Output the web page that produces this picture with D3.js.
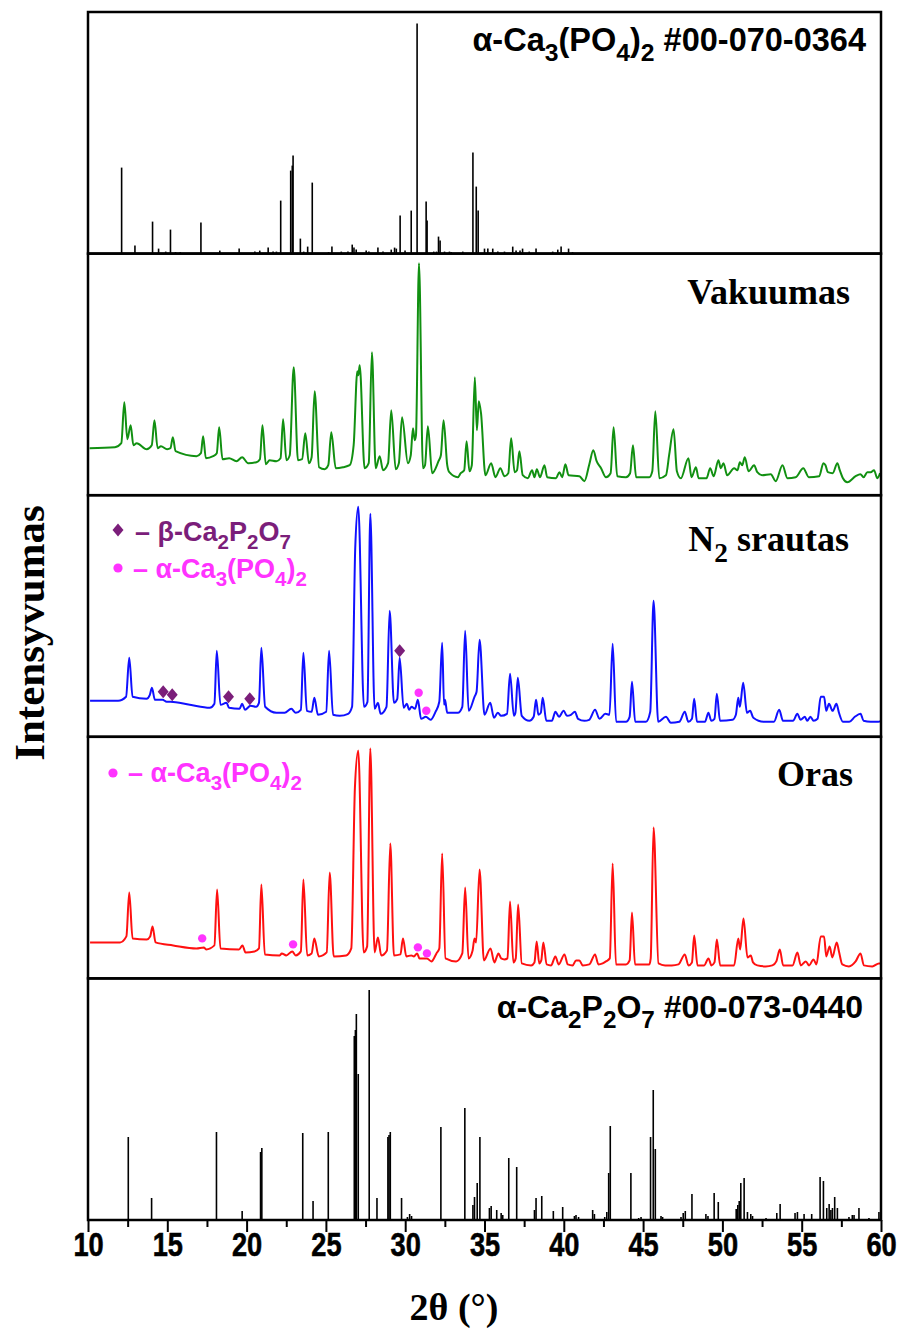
<!DOCTYPE html>
<html>
<head>
<meta charset="utf-8">
<script src="https://cdn.jsdelivr.net/npm/d3@7"></script>
<style>
  body { margin: 0; background: #fff; }
</style>
</head>
<body>
<div id="chart"></div>
<script>
// stick patterns: [2theta, intensity] (arbitrary units, panel full scale ~241.6)
var tcpSticks = [[12.12,86],[12.96,8],[14.07,32],[14.45,5],[14.9,2],[15.2,24],[15.52,1.5],[15.82,1.5],[17.12,31],[18.31,3],[19.53,5],[20.52,2],[20.83,3],[21.36,6],[21.67,2],[21.88,2],[22.15,53],[22.78,83],[22.88,88],[22.93,98],[23.39,15],[23.6,2],[23.85,7],[24.14,71],[25.17,1.5],[25.38,7],[25.97,2],[26.39,2],[26.66,9],[26.77,6],[26.91,4],[27.54,3],[27.71,2],[28.28,6],[28.6,2],[29.12,4],[29.33,6],[29.44,5],[29.68,38],[29.99,3],[30.38,43],[30.75,230],[31.32,52],[31.38,33],[31.8,2],[31.97,2],[32.1,17],[32.2,13],[32.48,2],[32.79,2],[32.9,1.5],[33.63,2],[34.27,101],[34.48,67],[34.6,43],[35.0,5],[35.21,5],[35.52,5],[35.84,2],[36.26,2],[36.78,7],[36.99,3],[37.24,3],[37.4,5],[37.82,2],[38.25,5],[39.3,2],[39.62,4],[39.83,7],[40.3,5],[40.55,1.5]]

var cppSticks = [[12.54,83],[14.01,22],[17.47,1],[18.1,88],[19.72,9],[20.88,68],[20.96,72],[23.54,87],[24.19,19],[25.15,88],[26.79,184],[26.86,190],[26.92,206],[27.04,146],[27.73,230],[28.22,22],[28.91,83],[28.98,85],[29.06,88],[29.77,22],[30.14,3],[30.28,6],[30.4,4],[32.25,93],[33.76,112],[34.27,15],[34.37,23],[34.54,37],[34.71,83],[35.31,12],[35.42,14],[35.77,10],[36.05,7],[36.15,5],[36.53,62],[37.03,53],[38.15,10],[38.25,22],[38.61,24],[39.34,9],[39.93,13],[40.67,4],[40.77,5],[40.93,3],[41.82,10],[41.93,6],[42.58,3],[42.71,8],[42.83,47],[42.93,94],[44.23,47],[44.72,2],[44.87,3],[45.47,83],[45.64,130],[45.77,71],[46.13,4],[46.23,3],[47.39,3],[47.53,7],[47.66,9],[48.08,26],[48.96,6],[49.09,4],[49.48,27],[49.74,18],[50.87,11],[50.97,15],[51.06,19],[51.16,37],[51.37,42],[51.58,8],[51.79,6],[51.9,4],[52.75,2],[53.43,7],[53.64,16],[54.58,7],[54.73,8],[55.15,6],[55.63,6],[56.16,43],[56.37,39],[56.58,12],[56.73,16],[56.84,10],[56.94,12],[57.08,23],[57.25,12],[57.98,3],[58.19,5],[58.3,5],[58.61,12],[59.24,2],[59.87,8]]

// measured patterns: [2theta, intensity]
var vakuumas = [[10.1,47],[11.7,48],[12.1,52],[12.29,93],[12.48,56],[12.69,70],[12.86,50],[13.07,52],[13.7,46],[14.02,50],[14.19,75],[14.39,47],[14.6,49],[14.99,46],[15.2,47],[15.35,58],[15.52,44],[16.84,39],[17.12,42],[17.26,59],[17.43,37],[17.89,39],[18.12,42],[18.27,68],[18.48,36],[18.9,37],[19.36,34],[19.72,38],[20.1,32],[20.62,33],[20.84,36],[21.0,70],[21.21,31],[21.45,35],[21.88,34],[22.14,37],[22.3,76],[22.51,35],[22.72,40],[22.97,128],[23.24,35],[23.5,36],[23.7,62],[23.93,32],[24.1,38],[24.29,104],[24.57,28],[24.92,26],[25.15,30],[25.34,63],[25.62,27],[26.08,28],[26.5,30],[26.75,50],[26.98,124],[27.05,120],[27.13,130],[27.44,27],[27.7,32],[27.9,143],[28.14,27],[28.39,39],[28.6,25],[28.92,32],[29.12,85],[29.4,26],[29.6,32],[29.8,78],[30.17,32],[30.35,40],[30.49,67],[30.6,55],[30.68,60],[30.87,232],[31.12,27],[31.25,30],[31.43,69],[31.7,22],[32.1,34],[32.25,40],[32.42,75],[32.65,30],[32.78,23],[33.32,18],[33.5,22],[33.72,25],[33.87,54],[34.05,24],[34.2,30],[34.39,118],[34.52,65],[34.64,94],[34.78,82],[35.06,20],[35.42,32],[35.69,18],[36.0,27],[36.26,19],[36.5,22],[36.68,57],[36.9,23],[37.05,25],[37.2,44],[37.41,20],[37.73,17],[38.0,25],[38.15,18],[38.3,26],[38.5,18],[38.78,30],[38.95,18],[39.51,17],[39.72,23],[39.9,18],[40.1,31],[40.3,20],[40.98,19],[41.3,14],[41.61,31],[41.86,45],[42.07,34],[42.35,27],[42.66,18],[42.95,22],[43.14,68],[43.37,19],[43.92,18],[44.18,22],[44.36,50],[44.56,18],[45.39,18],[45.58,24],[45.77,84],[46.02,17],[46.44,20],[46.65,41],[46.92,66],[47.13,24],[47.38,17],[47.86,37],[48.05,18],[48.33,28],[48.5,17],[49.0,17],[49.23,27],[49.45,19],[49.75,35],[49.9,27],[50.07,32],[50.3,20],[50.74,27],[50.95,25],[51.1,33],[51.25,30],[51.41,38],[51.65,24],[52.0,30],[52.2,23],[52.5,20],[53.05,21],[53.36,14],[53.79,30],[54.1,17],[54.62,18],[55.1,27],[55.45,18],[56.1,19],[56.37,32],[56.5,30],[56.65,23],[56.95,22],[57.25,32],[57.4,25],[57.6,17],[57.88,13],[58.4,19],[58.7,21],[58.9,18],[59.14,23],[59.35,23],[59.56,25],[59.77,17],[59.94,22]]

var n2Srautas = [[10.13,36],[11.9,36],[12.4,40],[12.6,79],[12.81,40],[13.69,38],[13.9,42],[14.03,49],[14.22,37],[14.7,37],[14.96,35],[15.2,35],[16.42,32],[17.68,29],[17.97,33],[18.12,86],[18.35,32],[18.73,34],[18.9,29],[19.55,28],[19.72,33],[19.9,27],[20.25,31],[20.6,30],[20.78,34],[20.93,89],[21.17,30],[21.88,24],[22.4,24],[22.82,28],[23.1,24],[23.42,27],[23.58,84],[23.8,26],[24.1,25],[24.27,39],[24.5,22],[25.02,25],[25.2,86],[25.45,22],[25.87,21],[26.4,23],[26.65,30],[26.85,189],[27.04,230],[27.4,30],[27.62,35],[27.8,223],[28.07,28],[28.28,34],[28.45,23],[28.82,30],[29.02,126],[29.29,34],[29.5,38],[29.65,79],[29.9,29],[30.1,33],[30.25,27],[30.4,30],[30.62,28],[30.8,37],[31.0,18],[31.3,20],[31.6,17],[31.91,25],[32.15,35],[32.33,94],[32.45,32],[32.51,37],[32.65,24],[33.32,24],[33.6,30],[33.78,106],[34.0,26],[34.37,40],[34.5,45],[34.69,97],[35.0,22],[35.36,34],[35.6,19],[35.84,24],[36.05,21],[36.42,23],[36.61,63],[36.85,21],[36.95,24],[37.1,59],[37.35,21],[37.83,16],[38.1,20],[38.25,37],[38.4,22],[38.55,24],[38.67,39],[38.9,16],[39.25,16],[39.47,25],[39.7,20],[39.99,26],[40.2,21],[40.45,22],[40.7,25],[40.9,18],[41.3,16],[41.6,17],[41.97,27],[42.25,18],[42.62,23],[42.88,22],[43.08,93],[43.3,15],[43.92,15],[44.15,20],[44.3,55],[44.5,15],[45.18,15],[45.45,25],[45.66,136],[45.95,15],[46.44,20],[46.75,14],[47.28,15],[47.63,25],[47.85,15],[48.08,18],[48.22,38],[48.4,15],[48.9,15],[49.12,24],[49.3,16],[49.5,18],[49.65,43],[49.85,16],[50.64,17],[50.85,22],[51.0,39],[51.1,30],[51.31,54],[51.55,24],[51.75,26],[51.95,19],[52.6,15],[53.25,15],[53.58,27],[53.82,16],[54.45,16],[54.73,23],[54.93,17],[55.2,20],[55.35,16],[55.55,20],[55.75,16],[56.0,18],[56.2,40],[56.41,40],[56.55,26],[56.72,33],[56.95,26],[57.19,33],[57.35,24],[57.6,15],[58.0,15],[58.35,20],[58.71,23],[58.9,16],[59.35,15],[59.83,15],[60.0,16]]

var oras = [[10.13,36],[12.02,36],[12.42,42],[12.6,86],[12.81,40],[13.7,39],[13.92,42],[14.07,52],[14.26,36],[15.37,33],[16.84,30],[17.3,31],[17.45,29],[17.97,33],[18.14,89],[18.35,30],[19.52,29],[19.74,33],[19.93,26],[20.5,27],[20.78,30],[20.93,94],[21.15,24],[22.09,23],[22.22,25],[22.5,23],[22.88,27],[23.1,23],[23.42,27],[23.58,99],[23.82,23],[24.1,25],[24.27,40],[24.55,22],[25.05,26],[25.24,106],[25.49,22],[26.28,23],[26.6,30],[26.83,191],[27.04,228],[27.38,26],[27.6,32],[27.8,230],[28.07,26],[28.28,41],[28.49,23],[28.85,28],[29.06,135],[29.29,23],[29.7,24],[29.86,40],[30.07,22],[30.38,23],[30.55,22],[30.75,25],[30.9,20],[31.37,20],[31.65,17],[31.97,25],[32.15,30],[32.33,125],[32.54,20],[33.21,17],[33.6,25],[33.78,91],[33.99,20],[34.25,28],[34.37,40],[34.47,36],[34.69,109],[34.96,18],[35.38,30],[35.62,16],[35.88,25],[36.05,20],[36.26,19],[36.45,20],[36.61,77],[36.82,16],[36.97,20],[37.12,74],[37.35,15],[37.94,13],[38.15,16],[38.29,37],[38.45,15],[38.58,18],[38.71,36],[38.92,14],[39.2,13],[39.47,22],[39.68,14],[40.04,24],[40.25,14],[40.56,13],[40.77,18],[40.98,18],[41.19,13],[41.61,14],[41.97,24],[42.18,14],[42.45,15],[42.66,17],[42.9,20],[43.08,115],[43.29,14],[43.92,14],[44.15,18],[44.3,66],[44.49,14],[45.39,14],[45.48,20],[45.66,151],[45.97,15],[46.39,13],[46.81,13],[47.23,14],[47.63,24],[47.86,13],[48.08,16],[48.22,43],[48.43,13],[48.85,13],[49.12,20],[49.31,13],[49.5,16],[49.65,39],[49.86,13],[50.74,13],[51.0,40],[51.12,29],[51.33,60],[51.58,21],[51.79,23],[51.93,16],[52.2,13],[52.73,12],[53.15,13],[53.4,17],[53.62,29],[53.83,13],[54.42,13],[54.73,26],[54.94,13],[55.26,17],[55.47,13],[55.74,19],[55.93,14],[56.2,42],[56.41,42],[56.55,22],[56.76,32],[56.93,21],[57.21,36],[57.35,27],[57.56,14],[57.98,12],[58.4,17],[58.71,25],[58.92,13],[59.45,12],[59.87,15],[60.0,15]]

// phase markers [2theta, intensity]
var n2Diamonds = [[14.74,45],[15.31,42],[18.86,40],[20.2,38],[29.65,86]]
var n2Circles = [[30.85,44],[31.33,26]]
var orasCircles = [[17.2,40],[22.93,34],[30.8,31],[31.37,25]]

var majorTicks = [10, 15, 20, 25, 30, 35, 40, 45, 50, 55, 60]
var minorTicks = [12.5, 17.5, 22.5, 27.5, 32.5, 37.5, 42.5, 47.5, 52.5, 57.5]

var purple = '#7b1e7a'
var magenta = '#ff33ff'
var sans = '"Liberation Sans", Arial, sans-serif'
var serif = '"Liberation Serif", "Times New Roman", serif'

var panels = [
  {type: 'sticks', data: tcpSticks, label: 'α-Ca_3(PO_4)_2 #00-070-0364', font: sans, size: 32.5, lx: 866, ly: 39},
  {type: 'line', data: vakuumas, color: '#119011', label: 'Vakuumas', font: serif, size: 36, lx: 850, ly: 50},
  {type: 'line', data: n2Srautas, color: '#1010ff', label: 'N_2 srautas', font: serif, size: 36, lx: 849, ly: 56},
  {type: 'line', data: oras, color: '#ff1010', label: 'Oras', font: serif, size: 36, lx: 853, ly: 49},
  {type: 'sticks', data: cppSticks, label: 'α-Ca_2P_2O_7 #00-073-0440', font: sans, size: 32, lx: 863, ly: 40}
]

var W = 901, H = 1339
var svg = d3.select('#chart').append('svg')
  .attr('width', W).attr('height', H)
  .style('background', '#fff')

var x = d3.scaleLinear().domain([10, 60]).range([88, 881])
var band = d3.scaleBand().domain(d3.range(panels.length)).range([12, 1220])
var yMax = band.bandwidth()

// write text with single-char subscripts marked by "_"
function richText(sel, str, fs){
  var parts = []
  for (var i = 0; i < str.length; i++){
    if (str[i] == '_'){ parts.push({t: str[i + 1], sub: true}); i++ }
    else if (parts.length && !parts[parts.length - 1].sub) parts[parts.length - 1].t += str[i]
    else parts.push({t: str[i], sub: false})
  }
  var shift = 0
  parts.forEach(p => {
    var want = p.sub ? fs*0.3 : 0
    sel.append('tspan').text(p.t)
      .attr('dy', want - shift)
      .attr('font-size', p.sub ? fs*0.76 : fs)
    shift = want
  })
}

panels.forEach((p, i) => {
  var top = band(i), bottom = top + yMax
  var y = d3.scaleLinear().domain([0, yMax]).range([bottom, top])
  p.y = y
  var g = svg.append('g')

  if (p.type == 'sticks'){
    g.selectAll('line').data(p.data).join('line')
      .attr('x1', d => x(d[0])).attr('x2', d => x(d[0]))
      .attr('y1', y(0)).attr('y2', d => y(d[1]))
      .attr('stroke', '#000').attr('stroke-width', 1.6)
  } else {
    g.append('path').datum(p.data)
      .attr('d', d3.line().curve(d3.curveMonotoneX).x(d => x(d[0])).y(d => y(d[1])))
      .attr('fill', 'none').attr('stroke', p.color)
      .attr('stroke-width', 2).attr('stroke-linejoin', 'round')
  }

  var t = svg.append('text')
    .attr('x', p.lx).attr('y', top + p.ly)
    .attr('text-anchor', 'end').attr('font-family', p.font)
    .attr('font-weight', 'bold').attr('fill', '#000')
  richText(t, p.label, p.size)
})

// markers
var diamond = 'M0,-6.5L5.5,0L0,6.5L-5.5,0Z'
var n2 = panels[2], or = panels[3]
svg.append('g').selectAll('path').data(n2Diamonds).join('path')
  .attr('d', diamond)
  .attr('transform', d => `translate(${x(d[0])},${n2.y(d[1])})`)
  .attr('fill', purple)
svg.append('g').selectAll('circle').data(n2Circles).join('circle')
  .attr('cx', d => x(d[0])).attr('cy', d => n2.y(d[1])).attr('r', 4.2)
  .attr('fill', magenta)
svg.append('g').selectAll('circle').data(orasCircles).join('circle')
  .attr('cx', d => x(d[0])).attr('cy', d => or.y(d[1])).attr('r', 4.2)
  .attr('fill', magenta)

// legends
var legends = [
  {sym: 'diamond', color: purple, text: '– β-Ca_2P_2O_7', sx: 118, sy: 530, tx: 135, ty: 541},
  {sym: 'circle', color: magenta, text: '– α-Ca_3(PO_4)_2', sx: 118, sy: 568, tx: 133, ty: 578},
  {sym: 'circle', color: magenta, text: '– α-Ca_3(PO_4)_2', sx: 113, sy: 773, tx: 128, ty: 782}
]
legends.forEach(l => {
  if (l.sym == 'diamond'){
    svg.append('path').attr('d', diamond).attr('transform', `translate(${l.sx},${l.sy})`).attr('fill', l.color)
  } else {
    svg.append('circle').attr('cx', l.sx).attr('cy', l.sy).attr('r', 4.6).attr('fill', l.color)
  }
  var t = svg.append('text').attr('x', l.tx).attr('y', l.ty)
    .attr('font-family', sans).attr('font-weight', 'bold').attr('fill', l.color)
  richText(t, l.text, 27)
})

// frames
panels.forEach((p, i) => {
  svg.append('rect')
    .attr('x', x(10)).attr('y', band(i))
    .attr('width', x(60) - x(10)).attr('height', yMax)
    .attr('fill', 'none').attr('stroke', '#000').attr('stroke-width', 2.5)
})

// x axis
var axisG = svg.append('g').attr('transform', 'translate(0,1220)')
axisG.call(d3.axisBottom(x).tickValues(majorTicks).tickSize(12).tickPadding(0).tickFormat(d3.format('d')))
axisG.select('.domain').remove()
axisG.selectAll('.tick line').attr('stroke', '#000').attr('stroke-width', 2)
axisG.selectAll('.tick text')
  .attr('font-family', sans).attr('font-weight', 'bold').attr('font-size', 34)
  .attr('fill', '#000').attr('stroke', '#000').attr('stroke-width', 0.6)
  .attr('transform', 'scale(0.8,1)')

var minorG = svg.append('g').attr('transform', 'translate(0,1220)')
minorG.call(d3.axisBottom(x).tickValues(minorTicks).tickSize(7).tickFormat(''))
minorG.select('.domain').remove()
minorG.selectAll('.tick line').attr('stroke', '#000').attr('stroke-width', 2)

// axis titles
svg.append('text')
  .attr('x', 454).attr('y', 1320)
  .attr('text-anchor', 'middle')
  .attr('font-family', serif).attr('font-weight', 'bold').attr('font-size', 38)
  .text('2θ (°)')

svg.append('text')
  .attr('transform', 'translate(44,633) rotate(-90)')
  .attr('text-anchor', 'middle')
  .attr('font-family', serif).attr('font-weight', 'bold').attr('font-size', 43)
  .text('Intensyvumas')
</script>
</body>
</html>
